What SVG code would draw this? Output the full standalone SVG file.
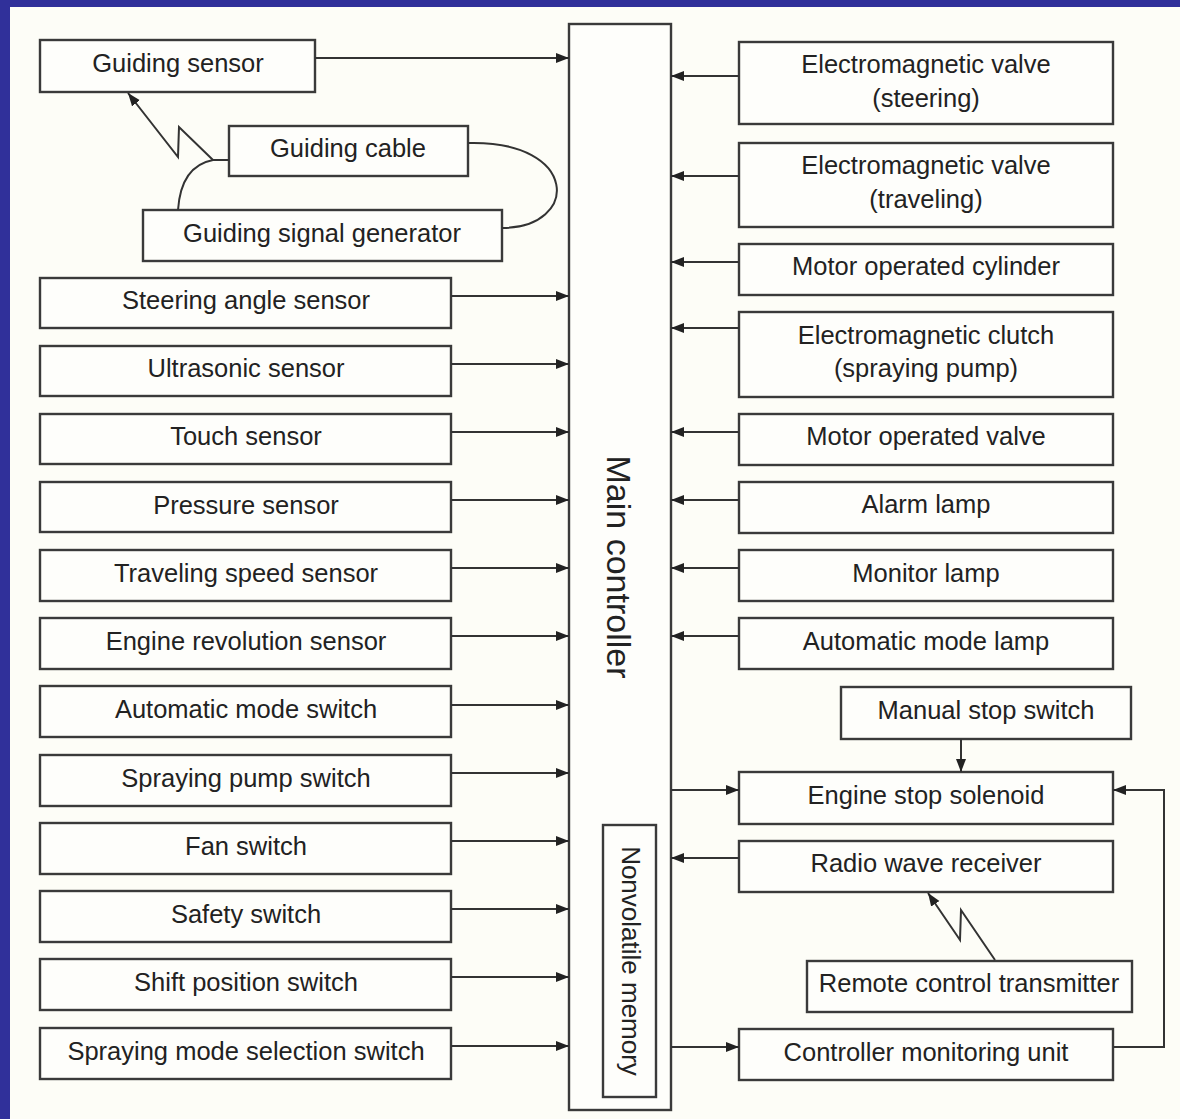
<svg xmlns="http://www.w3.org/2000/svg" width="1180" height="1119" viewBox="0 0 1180 1119">
<style>
.bg{fill:#fdfdf7}
.box{fill:#fefefb;stroke:#3a3a3a;stroke-width:2.4}
.t{font-family:"Liberation Sans",Arial,sans-serif;font-size:25.5px;fill:#222;text-anchor:middle;dominant-baseline:central}
.big{font-size:34px}
.nv{font-size:26px}
.ln{fill:none;stroke:#333;stroke-width:2}
</style>
<defs>
<marker id="ah" markerUnits="userSpaceOnUse" markerWidth="14" markerHeight="11" refX="13" refY="5" orient="auto">
<path d="M0,0 L13,5 L0,10 z" fill="#222"/>
</marker>
</defs>
<rect x="0" y="0" width="1180" height="1119" fill="#30309a"/>
<rect class="bg" x="10" y="7" width="1170" height="1112"/>

<g id="main-controller">
<rect class="box" x="569" y="24" width="102" height="1086"/>
<text class="t big" transform="translate(619,567) rotate(90)">Main controller</text>
</g>
<g id="nonvolatile-memory">
<rect class="box" x="603" y="825" width="53" height="272"/>
<text class="t nv" transform="translate(631,961) rotate(90)">Nonvolatile memory</text>
</g>

<g id="guiding-sensor"><rect class="box" x="40" y="40" width="275" height="52"/><text class="t" x="178" y="63">Guiding sensor</text></g>
<g id="guiding-cable"><rect class="box" x="229" y="126" width="239" height="50"/><text class="t" x="348" y="148">Guiding cable</text></g>
<g id="guiding-signal-generator"><rect class="box" x="143" y="210" width="359" height="51"/><text class="t" x="322" y="233">Guiding signal generator</text></g>

<g id="steering-angle-sensor"><rect class="box" x="40" y="278" width="411" height="50"/><text class="t" x="246" y="300">Steering angle sensor</text></g>
<g id="ultrasonic-sensor"><rect class="box" x="40" y="346" width="411" height="50"/><text class="t" x="246" y="368">Ultrasonic sensor</text></g>
<g id="touch-sensor"><rect class="box" x="40" y="414" width="411" height="50"/><text class="t" x="246" y="436">Touch sensor</text></g>
<g id="pressure-sensor"><rect class="box" x="40" y="482" width="411" height="50"/><text class="t" x="246" y="505">Pressure sensor</text></g>
<g id="traveling-speed-sensor"><rect class="box" x="40" y="550" width="411" height="51"/><text class="t" x="246" y="573">Traveling speed sensor</text></g>
<g id="engine-revolution-sensor"><rect class="box" x="40" y="618" width="411" height="51"/><text class="t" x="246" y="641">Engine revolution sensor</text></g>
<g id="automatic-mode-switch"><rect class="box" x="40" y="686" width="411" height="51"/><text class="t" x="246" y="709">Automatic mode switch</text></g>
<g id="spraying-pump-switch"><rect class="box" x="40" y="755" width="411" height="51"/><text class="t" x="246" y="778">Spraying pump switch</text></g>
<g id="fan-switch"><rect class="box" x="40" y="823" width="411" height="51"/><text class="t" x="246" y="846">Fan switch</text></g>
<g id="safety-switch"><rect class="box" x="40" y="891" width="411" height="51"/><text class="t" x="246" y="914">Safety switch</text></g>
<g id="shift-position-switch"><rect class="box" x="40" y="959" width="411" height="51"/><text class="t" x="246" y="982">Shift position switch</text></g>
<g id="spraying-mode-selection-switch"><rect class="box" x="40" y="1028" width="411" height="51"/><text class="t" x="246" y="1051">Spraying mode selection switch</text></g>

<g id="em-valve-steering"><rect class="box" x="739" y="42" width="374" height="82"/><text class="t" x="926" y="64">Electromagnetic valve</text><text class="t" x="926" y="98">(steering)</text></g>
<g id="em-valve-traveling"><rect class="box" x="739" y="143" width="374" height="84"/><text class="t" x="926" y="165">Electromagnetic valve</text><text class="t" x="926" y="199">(traveling)</text></g>
<g id="motor-operated-cylinder"><rect class="box" x="739" y="244" width="374" height="51"/><text class="t" x="926" y="266">Motor operated cylinder</text></g>
<g id="em-clutch"><rect class="box" x="739" y="312" width="374" height="85"/><text class="t" x="926" y="335">Electromagnetic clutch</text><text class="t" x="926" y="368">(spraying pump)</text></g>
<g id="motor-operated-valve"><rect class="box" x="739" y="414" width="374" height="51"/><text class="t" x="926" y="436">Motor operated valve</text></g>
<g id="alarm-lamp"><rect class="box" x="739" y="482" width="374" height="51"/><text class="t" x="926" y="504">Alarm lamp</text></g>
<g id="monitor-lamp"><rect class="box" x="739" y="550" width="374" height="51"/><text class="t" x="926" y="573">Monitor lamp</text></g>
<g id="automatic-mode-lamp"><rect class="box" x="739" y="618" width="374" height="51"/><text class="t" x="926" y="641">Automatic mode lamp</text></g>
<g id="manual-stop-switch"><rect class="box" x="841" y="687" width="290" height="52"/><text class="t" x="986" y="710">Manual stop switch</text></g>
<g id="engine-stop-solenoid"><rect class="box" x="739" y="772" width="374" height="52"/><text class="t" x="926" y="795">Engine stop solenoid</text></g>
<g id="radio-wave-receiver"><rect class="box" x="739" y="841" width="374" height="51"/><text class="t" x="926" y="863">Radio wave receiver</text></g>
<g id="remote-control-transmitter"><rect class="box" x="807" y="961" width="325" height="51"/><text class="t" x="969" y="983">Remote control transmitter</text></g>
<g id="controller-monitoring-unit"><rect class="box" x="739" y="1029" width="374" height="51"/><text class="t" x="926" y="1052">Controller monitoring unit</text></g>

<g id="connectors">
<line class="ln" x1="315" y1="58" x2="569" y2="58" marker-end="url(#ah)"/>
<line class="ln" x1="451" y1="296" x2="569" y2="296" marker-end="url(#ah)"/>
<line class="ln" x1="451" y1="364" x2="569" y2="364" marker-end="url(#ah)"/>
<line class="ln" x1="451" y1="432" x2="569" y2="432" marker-end="url(#ah)"/>
<line class="ln" x1="451" y1="500" x2="569" y2="500" marker-end="url(#ah)"/>
<line class="ln" x1="451" y1="568" x2="569" y2="568" marker-end="url(#ah)"/>
<line class="ln" x1="451" y1="636" x2="569" y2="636" marker-end="url(#ah)"/>
<line class="ln" x1="451" y1="705" x2="569" y2="705" marker-end="url(#ah)"/>
<line class="ln" x1="451" y1="773" x2="569" y2="773" marker-end="url(#ah)"/>
<line class="ln" x1="451" y1="841" x2="569" y2="841" marker-end="url(#ah)"/>
<line class="ln" x1="451" y1="909" x2="569" y2="909" marker-end="url(#ah)"/>
<line class="ln" x1="451" y1="977" x2="569" y2="977" marker-end="url(#ah)"/>
<line class="ln" x1="451" y1="1046" x2="569" y2="1046" marker-end="url(#ah)"/>

<line class="ln" x1="739" y1="76" x2="671" y2="76" marker-end="url(#ah)"/>
<line class="ln" x1="739" y1="176" x2="671" y2="176" marker-end="url(#ah)"/>
<line class="ln" x1="739" y1="262" x2="671" y2="262" marker-end="url(#ah)"/>
<line class="ln" x1="739" y1="328" x2="671" y2="328" marker-end="url(#ah)"/>
<line class="ln" x1="739" y1="432" x2="671" y2="432" marker-end="url(#ah)"/>
<line class="ln" x1="739" y1="500" x2="671" y2="500" marker-end="url(#ah)"/>
<line class="ln" x1="739" y1="568" x2="671" y2="568" marker-end="url(#ah)"/>
<line class="ln" x1="739" y1="636" x2="671" y2="636" marker-end="url(#ah)"/>
<line class="ln" x1="739" y1="858" x2="671" y2="858" marker-end="url(#ah)"/>

<line class="ln" x1="671" y1="790" x2="739" y2="790" marker-end="url(#ah)"/>
<line class="ln" x1="671" y1="1047" x2="739" y2="1047" marker-end="url(#ah)"/>
<line class="ln" x1="961" y1="739" x2="961" y2="772" marker-end="url(#ah)"/>
<polyline class="ln" points="1113,1047 1164,1047 1164,790 1113,790" marker-end="url(#ah)"/>

<path class="ln" d="M213,160 L179,127 L178,157 L128,93" marker-end="url(#ah)"/>
<path class="ln" d="M229,160 L213,160 Q181,166 178,210"/>
<path class="ln" d="M468,143 C580,140 580,228 502,228"/>
<path class="ln" d="M995,960 L961,910 L960,940 L928,893" marker-end="url(#ah)"/>
</g>
</svg>
